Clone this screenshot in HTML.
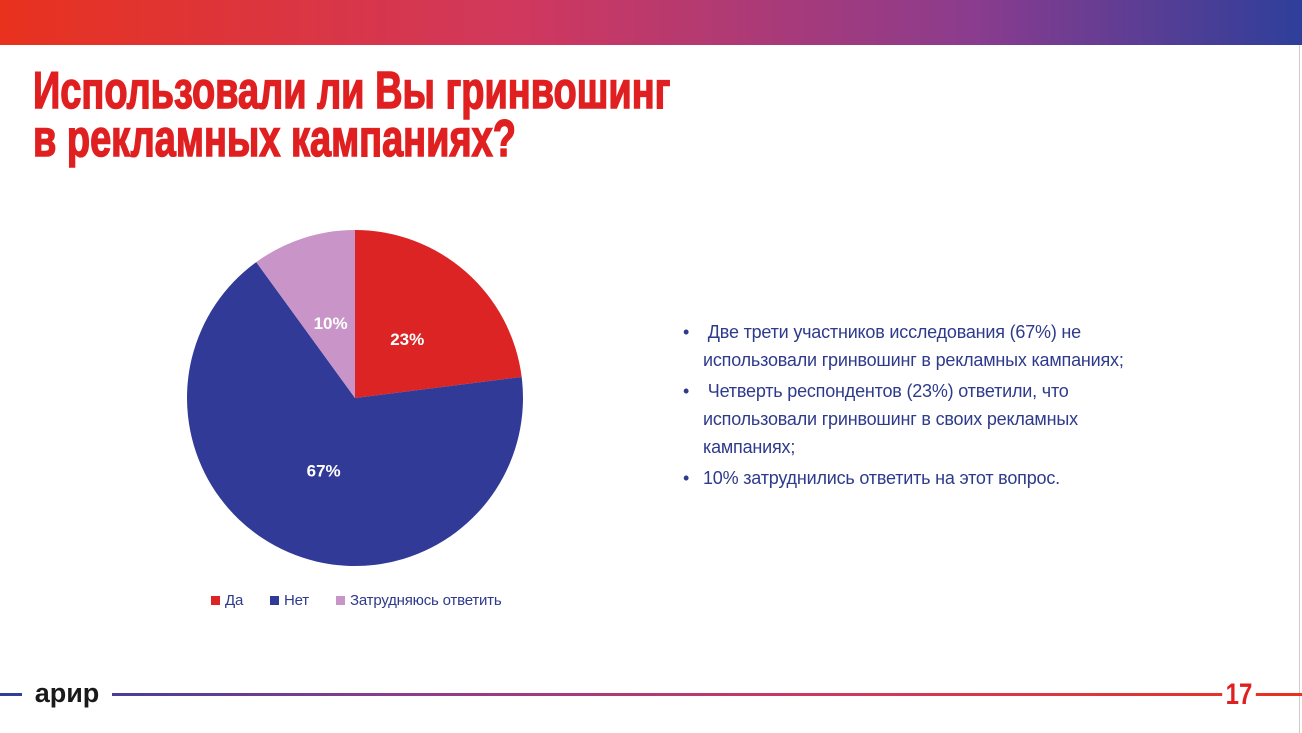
<!DOCTYPE html>
<html><head><meta charset="utf-8"><style>
body{margin:0;width:1302px;height:733px;background:#fff;position:relative;overflow:hidden;font-family:"Liberation Sans",sans-serif}
.abs{position:absolute}
#title{left:33px;top:67px;color:#e02020;font-weight:bold;font-size:52px;line-height:48px;white-space:nowrap;transform:scaleX(0.73);transform-origin:0 0;-webkit-text-stroke:1.5px #e02020}
.bul{color:#2e3a8c;font-size:18px;line-height:28px;letter-spacing:-0.2px}
.bul div{position:relative;padding-left:20px}
.bul div:before{content:"•";position:absolute;left:0}
.leg{font-size:15px;color:#2e3a8c;top:592px;letter-spacing:-0.2px}
.sw{display:inline-block;width:9px;height:9px;margin-right:5px}
</style></head><body>
<div class="abs" style="left:0;top:0;width:1302px;height:45px;background:linear-gradient(90deg,#e8321e,#d0385e 40%,#8a3c8e 75%,#2e3f9a)"></div>
<div class="abs" style="left:1299px;top:45px;width:1px;height:688px;background:#ccc"></div>
<div id="title" class="abs">Использовали ли Вы гринвошинг<br>в рекламных кампаниях?</div>
<svg class="abs" style="left:0;top:0" width="700" height="580">
<g id="pie"></g></svg>
<div class="abs leg" style="left:211px"><span class="sw" style="background:#dc2424"></span>Да</div>
<div class="abs leg" style="left:270px"><span class="sw" style="background:#323a98"></span>Нет</div>
<div class="abs leg" style="left:336px"><span class="sw" style="background:#c994c8"></span>Затрудняюсь ответить</div>
<div class="abs bul" style="left:683px;top:318px;width:470px">
<div>&nbsp;Две трети участников исследования (67%) не использовали гринвошинг в рекламных кампаниях;</div>
<div style="margin-top:3px">&nbsp;Четверть респондентов (23%) ответили, что использовали гринвошинг в своих рекламных кампаниях;</div>
<div style="margin-top:3px">10% затруднились ответить на этот вопрос.</div>
</div>
<div class="abs" style="left:0;top:693px;width:1302px;height:3px;background:linear-gradient(90deg,#2e3f9a,#8a3c8e 30%,#d0385e 65%,#e8321e)"></div>
<div class="abs" style="left:22px;top:676px;width:90px;height:32px;background:#fff;font-weight:bold;font-size:27px;line-height:34px;color:#1a1a1a;text-align:center">арир</div>
<div class="abs" style="left:1218px;top:676px;width:42px;height:36px;background:#fff;color:#e02020;font-weight:bold;font-size:30px;line-height:38px;text-align:center;transform:scaleX(0.8)">17</div>
<script>
const categories=["Да","Нет","Затрудняюсь ответить"];
const values=[23,67,10];
const labels=["23%","67%","10%"];
const colors=["#dc2424","#323a98","#c994c8"];
const cx=355,cy=398,r=168;
const g=document.getElementById('pie');
const total=values.reduce((a,b)=>a+b,0);
let a0=-Math.PI/2;
values.forEach((v,i)=>{
 const a1=a0+v/total*2*Math.PI;
 const p=document.createElementNS('http://www.w3.org/2000/svg','path');
 const large=(a1-a0)>Math.PI?1:0;
 p.setAttribute('d',`M${cx},${cy}L${cx+r*Math.cos(a0)},${cy+r*Math.sin(a0)}A${r},${r} 0 ${large} 1 ${cx+r*Math.cos(a1)},${cy+r*Math.sin(a1)}Z`);
 p.setAttribute('fill',colors[i]);
 
 
 g.appendChild(p);
 const am=(a0+a1)/2, lr=r*0.47;
 const t=document.createElementNS('http://www.w3.org/2000/svg','text');
 t.setAttribute('x',cx+lr*Math.cos(am));
 t.setAttribute('y',cy+lr*Math.sin(am)+6);
 t.setAttribute('text-anchor','middle');
 t.setAttribute('fill','#fff');
 t.setAttribute('font-weight','bold');
 t.setAttribute('font-size','17');
 t.setAttribute('font-family','"Liberation Sans",sans-serif');
 t.textContent=labels[i];
 
 
 g.appendChild(t);
 a0=a1;
});
</script>
</body></html>
